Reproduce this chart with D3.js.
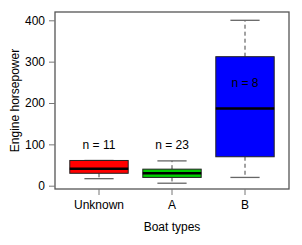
<!DOCTYPE html>
<html><head><meta charset="utf-8">
<script src="https://cdn.jsdelivr.net/npm/d3@7"></script>
<style>body{margin:0;background:#fff}svg{display:block}text{font-family:"Liberation Sans",Arial,sans-serif;fill:#000}</style>
</head><body><div id="chart"></div>
<script>
const categories = ["Unknown", "A", "B"];
const lowerWhisker = [17, 6, 20];
const q1 = [30, 20, 70];
const median = [41, 30, 187];
const q3 = [61, 40, 312];
const upperWhisker = [61, 60, 400];
const counts = [11, 23, 8];
const labelY = [100, 100, 250];
const colors = ["#ff0000", "#00cd00", "#0000ff"];
const yTicks = [0, 100, 200, 300, 400];

(function () {
const W = 302, H = 245;
const svg = d3.select("#chart").append("svg").attr("width", W).attr("height", H);
const pl = 55, pr = 289, pt = 12, pb = 189;

const x = d3.scaleBand().domain(categories).range([pl + 7.5, pr - 7.5]).paddingInner(0.2).paddingOuter(0.1);
const y = d3.scaleLinear().domain([0, 400]).range([185.7, 20.3]);
const bw = x.bandwidth();

svg.append("rect").attr("x", pl).attr("y", pt).attr("width", pr - pl).attr("height", pb - pt)
  .attr("fill", "none").attr("stroke", "#555").attr("stroke-width", 1.3);

const g = svg.append("g");
categories.forEach((c, i) => {
  const cx = x(c) + bw / 2;
  const st = "#444";
  g.append("line").attr("x1", cx).attr("x2", cx).attr("y1", y(q3[i])).attr("y2", y(upperWhisker[i]))
    .attr("stroke", st).attr("stroke-dasharray", "4,3");
  g.append("line").attr("x1", cx).attr("x2", cx).attr("y1", y(q1[i])).attr("y2", y(lowerWhisker[i]))
    .attr("stroke", st).attr("stroke-dasharray", "4,3");
  g.append("line").attr("x1", cx - bw / 4).attr("x2", cx + bw / 4).attr("y1", y(upperWhisker[i])).attr("y2", y(upperWhisker[i]))
    .attr("stroke", "#666").attr("stroke-width", 1.3);
  g.append("line").attr("x1", cx - bw / 4).attr("x2", cx + bw / 4).attr("y1", y(lowerWhisker[i])).attr("y2", y(lowerWhisker[i]))
    .attr("stroke", "#666").attr("stroke-width", 1.3);
  g.append("rect").attr("x", x(c)).attr("y", y(q3[i])).attr("width", bw).attr("height", y(q1[i]) - y(q3[i]))
    .attr("fill", colors[i]).attr("stroke", "#222").attr("stroke-width", 1);
  g.append("line").attr("x1", x(c)).attr("x2", x(c) + bw).attr("y1", y(median[i])).attr("y2", y(median[i]))
    .attr("stroke", "#000").attr("stroke-width", 2.5);
  g.append("text").attr("x", cx).attr("y", y(labelY[i])).attr("dy", "0.35em").attr("text-anchor", "middle")
    .attr("font-size", 12).text("n = " + counts[i]);
});

const ya = svg.append("g").attr("transform", `translate(${pl},0)`)
  .call(d3.axisLeft(y).tickValues(yTicks).tickSize(6).tickPadding(4));
ya.select(".domain").remove();
ya.selectAll(".tick line").attr("stroke", "#777");
ya.selectAll("text").attr("font-size", 12).attr("font-family", "Liberation Sans, Arial, sans-serif").attr("fill", "#000");

const xa = svg.append("g").attr("transform", `translate(0,${pb})`)
  .call(d3.axisBottom(x).tickSize(6).tickPadding(5));
xa.select(".domain").remove();
xa.selectAll(".tick line").attr("stroke", "#777");
xa.selectAll("text").attr("font-size", 12).attr("font-family", "Liberation Sans, Arial, sans-serif").attr("fill", "#000");

svg.append("text").attr("x", 172).attr("y", 231).attr("text-anchor", "middle").attr("font-size", 12).text("Boat types");
svg.append("text").attr("transform", `translate(19,${(pt + pb) / 2}) rotate(-90)`).attr("text-anchor", "middle")
  .attr("font-size", 12).text("Engine horsepower");
})();
</script></body></html>
